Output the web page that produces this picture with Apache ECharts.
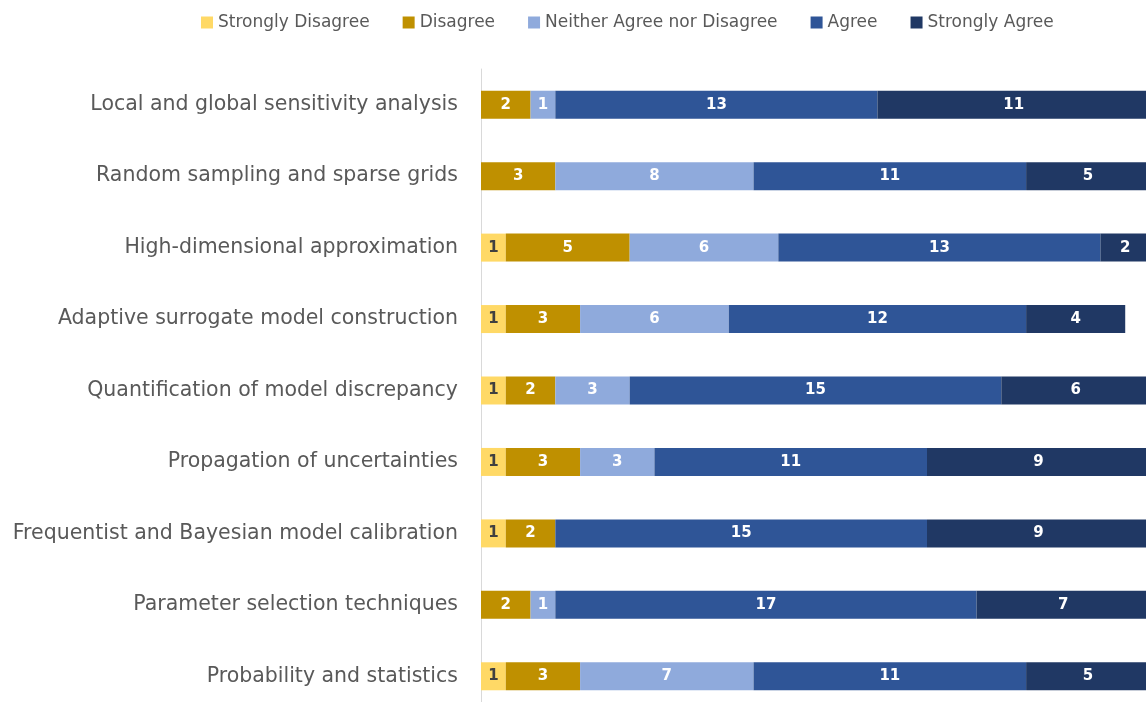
<!DOCTYPE html>
<html>
<head>
<meta charset="utf-8">
<script src="https://cdn.jsdelivr.net/npm/echarts@6/dist/echarts.min.js"></script>
<style>
html,body{margin:0;padding:0;overflow:hidden;background:#fff;}
#chart{width:1152px;height:720px;}
</style>
</head>
<body>
<div id="chart"></div>
<script>
const categories = [
  "Local and global sensitivity analysis",
  "Random sampling and sparse grids",
  "High-dimensional approximation",
  "Adaptive surrogate model construction",
  "Quantification of model discrepancy",
  "Propagation of uncertainties",
  "Frequentist and Bayesian model calibration",
  "Parameter selection techniques",
  "Probability and statistics"
];
const seriesNames = ["Strongly Disagree", "Disagree", "Neither Agree nor Disagree", "Agree", "Strongly Agree"];
const stronglyDisagree = [0, 0, 1, 1, 1, 1, 1, 0, 1];
const disagree         = [2, 3, 5, 3, 2, 3, 2, 2, 3];
const neither          = [1, 8, 6, 6, 3, 3, 0, 1, 7];
const agree            = [13, 11, 13, 12, 15, 11, 15, 17, 11];
const stronglyAgree    = [11, 5, 2, 4, 6, 9, 9, 7, 5];
const colors = ["#FFD966", "#BF9000", "#8FAADC", "#2F5597", "#203864"];
const labelColors = ["#404040", "#ffffff", "#ffffff", "#ffffff", "#ffffff"];
const allValues = [stronglyDisagree, disagree, neither, agree, stronglyAgree];

const FONT = "DejaVu Sans";
const chart = echarts.init(document.getElementById('chart'));
chart.setOption({
  animation: false,
  textStyle: { fontFamily: FONT },
  legend: {
    top: 9, left: 196,
    itemWidth: 12, itemHeight: 12, itemGap: 33,
    icon: 'rect',
    textStyle: { fontFamily: FONT, fontSize: 17, color: '#595959' },
    data: seriesNames
  },
  grid: { left: 481, right: 2, top: 69, bottom: 8 },
  xAxis: {
    type: 'value', min: 0, max: 27,
    show: false
  },
  yAxis: {
    type: 'category', data: categories, inverse: true,
    axisLine: { show: true, lineStyle: { color: '#d9d9d9', width: 1 } },
    axisTick: { show: false },
    axisLabel: { fontFamily: FONT, fontSize: 20.5, color: '#595959', margin: 23 }
  },
  series: seriesNames.map((name, i) => ({
    name: name, type: 'bar', stack: 'total', barWidth: 28,
    itemStyle: { color: colors[i] },
    label: {
      show: true, position: 'inside', color: labelColors[i],
      fontFamily: FONT, fontSize: 15, fontWeight: 'bold',
      formatter: p => (p.value ? p.value : '')
    },
    data: allValues[i].map(v => (v === 0 ? null : v))
  }))
});
</script>
</body>
</html>
